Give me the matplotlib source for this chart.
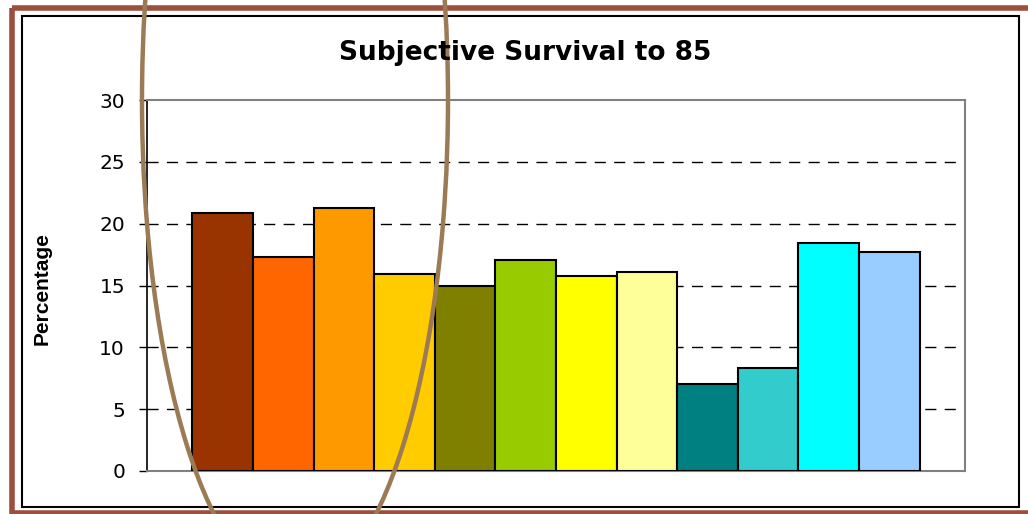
import matplotlib.pyplot as plt
from matplotlib.patches import Rectangle, Ellipse
import numpy as np

plt.rcParams['font.family'] = ['Liberation Sans', 'DejaVu Sans']

# bar heights (percent)
values = [20.9, 17.3, 21.3, 15.9, 15.0, 17.1, 15.8, 16.1, 7.0, 8.3, 18.4, 17.7]
colors = ['#993300', '#FF6600', '#FF9900', '#FFCC00', '#808000', '#99CC00',
          '#FFFF00', '#FFFF99', '#008080', '#33CCCC', '#00FFFF', '#99CCFF']
yticks = [0, 5, 10, 15, 20, 25, 30]

W, H = 1028, 514
fig = plt.figure(figsize=(W / 100, H / 100), dpi=100)

# plot area in pixels: x 147..965, y 100..471
left, right, top, bottom = 147, 965, 100, 471
ax = fig.add_axes([left / W, 1 - bottom / H, (right - left) / W, (bottom - top) / H])

x = np.arange(len(values))
ax.bar(x, values, width=1.0, color=colors, edgecolor='black', linewidth=1.5, zorder=3)

ax.set_xlim(-1.25, len(values) + 0.25)
ax.set_ylim(0, 30)
ax.set_yticks(yticks)
ax.set_xticks([])
ax.tick_params(axis='y', direction='out', length=5.8, width=1, pad=10, colors='black')
for lab in ax.get_yticklabels():
    lab.set_family('DejaVu Sans')
    lab.set_fontsize(14.5)
for y in yticks[1:-1]:
    ax.axhline(y, color='black', linestyle=(0, (8, 6)), linewidth=1, zorder=1)

for side in ['top', 'right', 'bottom']:
    ax.spines[side].set_color('#808080')
    ax.spines[side].set_linewidth(1.5)
ax.spines['left'].set_color('black')
ax.spines['left'].set_linewidth(1.2)

fig.text(525 / W, 1 - 53 / H, 'Subjective Survival to 85', ha='center', va='center',
         fontsize=19, fontweight='bold', family='DejaVu Sans')
fig.text(42 / W, 1 - 289 / H, 'Percentage', ha='center', va='center', rotation=90,
         fontsize=15, fontweight='bold')

# overlay in pixel coordinates for the frames and the drawn oval
ov = fig.add_axes([0, 0, 1, 1], facecolor='none')
ov.set_xlim(0, W)
ov.set_ylim(H, 0)
ov.axis('off')
ov.add_patch(Rectangle((11.5, 7.5), W + 20, 505, fill=False, edgecolor='#9C4F3C', linewidth=4))
ov.add_patch(Rectangle((22, 16), 997, 491, fill=False, edgecolor='black', linewidth=1.5))
ov.add_patch(Ellipse((295, 100), 306, 976, fill=False, edgecolor='#9C7A54', linewidth=3.2, zorder=10))

fig.savefig('out.png', dpi=100)
